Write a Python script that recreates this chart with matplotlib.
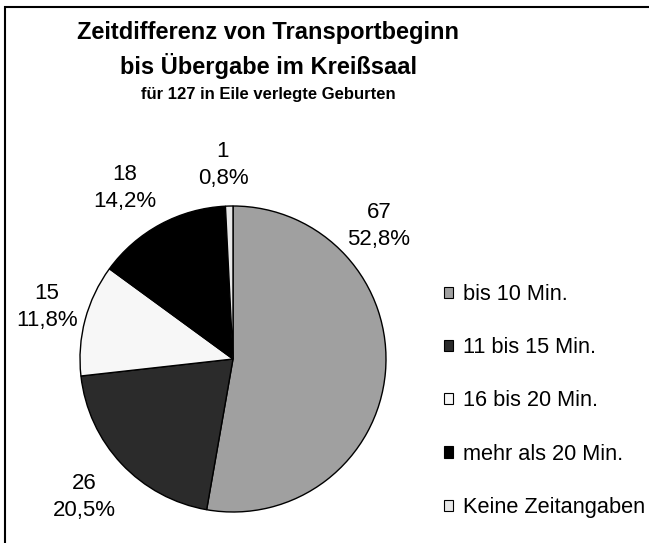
import matplotlib
matplotlib.use("Agg")
import matplotlib.pyplot as plt
from matplotlib.patches import Rectangle, Patch

plt.rcParams['font.family'] = ['Liberation Sans', 'DejaVu Sans']

categories = ['bis 10 Min.', '11 bis 15 Min.', '16 bis 20 Min.', 'mehr als 20 Min.', 'Keine Zeitangaben']
counts = [67, 26, 15, 18, 1]
colors = ['#a0a0a0', '#2b2b2b', '#f7f7f7', '#000000', '#e8e8e8']

W, H = 649, 543
fig = plt.figure(figsize=(W / 100, H / 100), dpi=100)

# pie: centre (233, 359) px, radius 153 px
cx, cy, r = 233, 359, 153
ax = fig.add_axes([(cx - r) / W, 1 - (cy + r) / H, 2 * r / W, 2 * r / H])
ax.pie(counts, colors=colors, startangle=90, counterclock=False,
       wedgeprops=dict(edgecolor='black', linewidth=1))
ax.set_xlim(-1, 1)
ax.set_ylim(-1, 1)
ax.set_aspect('auto')

# value labels, placed by hand like the original
label_pos = [(379, 226), (84, 497), (47, 307), (125, 188), (223, 165)]
total = sum(counts)
for n, (x, y) in zip(counts, label_pos):
    pct = f"{100 * n / total:.1f}".replace('.', ',')
    fig.text(x / W, 1 - y / H, f"{n}\n{pct}%", ha='center', va='center',
             fontsize=16, linespacing=1.4)

fig.text(268 / W, 1 - 33 / H, 'Zeitdifferenz von Transportbeginn', ha='center', va='center',
         fontsize=17, fontweight='bold')
fig.text(268 / W, 1 - 66 / H, 'bis Übergabe im Kreißsaal', ha='center', va='center',
         fontsize=17, fontweight='bold')
fig.text(268 / W, 1 - 95 / H, 'für 127 in Eile verlegte Geburten', ha='center', va='center',
         fontsize=12, fontweight='bold')

handles = [Patch(facecolor=c, edgecolor='black', linewidth=0.8) for c in colors]
fig.legend(handles, categories, loc='center left', bbox_to_anchor=(444 / W, 1 - 401 / H),
           frameon=False, fontsize=15.7, borderpad=0, borderaxespad=0,
           handlelength=0.42, handleheight=0.42, handletextpad=0.45, labelspacing=1.48)

# outer frame (right and bottom edges fall outside the image)
fig.patches.append(Rectangle((5 / W, -0.5), 2, 1.5 - 7 / H, transform=fig.transFigure,
                             fill=False, edgecolor='black', linewidth=1.5))

fig.savefig('out.png', dpi=100)
